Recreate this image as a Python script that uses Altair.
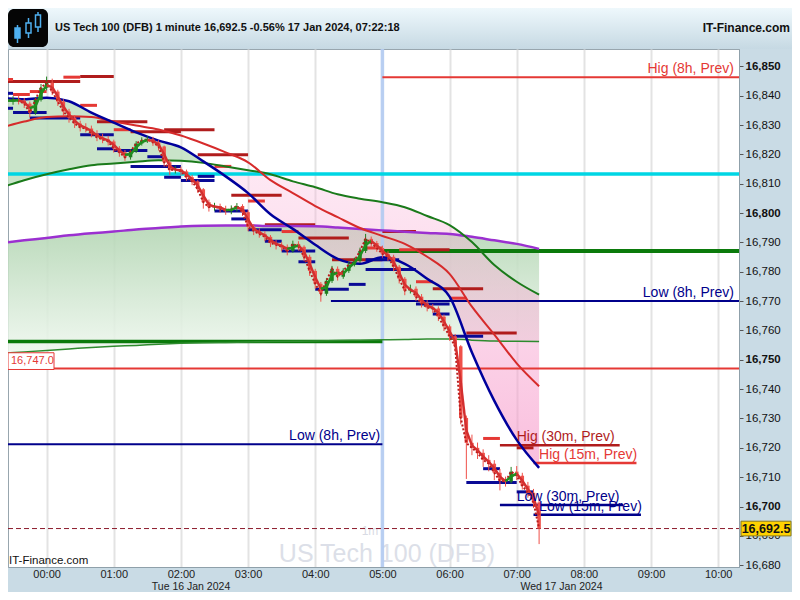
import altair as alt
import pandas as pd

# ---------------- data (x = minutes after 00:00 on the session axis) ----------------
candle_m = list(range(-40, 441, 5))
first_open = 16839.0
close = [16838.6, 16838.0, 16838.6, 16838.3, 16837.3, 16834.2, 16838.6, 16842.7,
         16844.4, 16841.4, 16838.0, 16834.6, 16832.5, 16830.5, 16829.2, 16828.8, 16827.1, 16825.8,
         16825.1, 16824.4, 16822.0, 16820.7, 16819.0, 16821.0, 16823.7, 16824.7, 16825.1, 16824.1,
         16822.7, 16817.3, 16814.6, 16814.9, 16814.2, 16812.2, 16810.8, 16808.1, 16803.7, 16802.0,
         16802.4, 16801.4, 16800.7, 16801.4, 16802.4, 16800.3, 16795.3, 16793.9, 16792.9, 16791.9,
         16789.8, 16789.2, 16788.5, 16787.1, 16789.5, 16788.5, 16785.1, 16780.3, 16775.9, 16772.5,
         16776.9, 16781.0, 16778.3, 16780.3, 16782.4, 16783.7, 16787.1, 16791.2, 16789.8, 16788.1,
         16786.1, 16785.1, 16781.7, 16777.6, 16773.6, 16774.2, 16771.5, 16769.2, 16767.8, 16767.5,
         16764.7, 16761.4, 16758.0, 16754.6, 16730.2, 16721.7, 16720.0, 16718.3, 16715.9, 16714.6,
         16711.5, 16708.8, 16708.5, 16711.9, 16710.5, 16707.1, 16704.7, 16701.4, 16692.5]
high = [16840.5, 16840.0, 16839.8, 16839.9, 16839.2, 16838.0, 16839.5, 16844.0,
        16846.5, 16845.8, 16842.0, 16838.8, 16835.5, 16833.4, 16831.5, 16830.6, 16829.8, 16828.2,
        16827.0, 16826.3, 16825.0, 16822.8, 16821.5, 16821.8, 16824.5, 16825.8, 16826.2, 16826.0,
        16824.8, 16823.0, 16818.2, 16816.0, 16815.8, 16814.8, 16813.0, 16811.2, 16808.5, 16804.6,
        16803.5, 16803.2, 16802.5, 16802.6, 16803.4, 16803.0, 16801.0, 16796.2, 16794.8, 16793.8,
        16792.5, 16790.8, 16790.1, 16789.3, 16790.6, 16790.4, 16789.0, 16785.8, 16781.0, 16776.5,
        16777.8, 16782.0, 16781.8, 16781.2, 16783.5, 16784.8, 16788.2, 16792.9, 16792.0, 16790.5,
        16788.9, 16787.0, 16785.8, 16782.3, 16778.2, 16775.6, 16775.0, 16772.4, 16770.3, 16769.0,
        16768.2, 16765.4, 16762.0, 16758.8, 16755.0, 16731.0, 16724.5, 16721.8, 16719.5, 16717.5,
        16715.8, 16712.8, 16710.2, 16713.5, 16713.8, 16711.5, 16708.4, 16706.0, 16702.5]
low = [16837.2, 16836.8, 16836.9, 16837.0, 16835.8, 16832.6, 16833.5, 16838.0,
       16841.8, 16840.2, 16836.5, 16833.0, 16830.8, 16829.0, 16827.8, 16827.5, 16825.8, 16824.5,
       16823.8, 16823.0, 16820.6, 16819.2, 16817.8, 16818.2, 16820.5, 16823.0, 16823.9, 16822.9,
       16821.3, 16815.8, 16813.0, 16813.5, 16812.9, 16811.0, 16809.5, 16806.9, 16801.5, 16800.5,
       16800.8, 16800.2, 16799.4, 16799.6, 16800.5, 16799.0, 16793.8, 16792.5, 16791.6, 16790.4,
       16788.4, 16787.6, 16787.0, 16785.6, 16786.5, 16787.2, 16783.6, 16778.6, 16774.2, 16769.8,
       16771.8, 16776.2, 16777.0, 16777.6, 16779.6, 16781.8, 16783.0, 16786.4, 16788.5, 16786.8,
       16784.8, 16783.7, 16780.2, 16776.0, 16772.0, 16772.6, 16770.1, 16767.8, 16766.5, 16766.0,
       16763.2, 16759.8, 16756.5, 16752.8, 16728.0, 16709.4, 16717.5, 16716.2, 16713.5, 16712.0,
       16709.0, 16705.5, 16706.8, 16707.9, 16709.0, 16705.8, 16703.0, 16699.5, 16687.2]

ma_m = [-40, -20, 0, 20, 40, 60, 80, 100, 120, 140, 160, 180, 200, 220, 240, 260, 280, 300,
        320, 340, 360, 380, 400, 420, 440]
blue_ma = [16839.2, 16838.8, 16839.3, 16838.1, 16834.2, 16830.8, 16827.5, 16824.7, 16822.4,
           16817.6, 16812.5, 16806.8, 16799.6, 16794.6, 16789.2, 16784.4, 16782.7, 16784.9,
           16782.7, 16777.6, 16771.5, 16752.5, 16736.0, 16722.7, 16713.2]
red_ma = [16829.2, 16831.2, 16832.7, 16833.0, 16832.7, 16831.2, 16829.8, 16828.5, 16826.4,
          16823.7, 16820.7, 16817.3, 16811.2, 16806.8, 16802.4, 16798.6, 16794.9, 16792.2,
          16789.5, 16785.1, 16779.3, 16768.1, 16758.6, 16748.8, 16741.0]
green_ma = [16808.8, 16811.2, 16813.2, 16814.9, 16816.3, 16816.9, 16817.5, 16818.0, 16817.8,
            16817.1, 16815.9, 16814.6, 16813.2, 16810.8, 16808.8, 16806.4, 16804.9, 16803.7,
            16802.0, 16799.0, 16795.9, 16790.1, 16782.3, 16776.6, 16772.2]
purple_ma = [16789.8, 16790.7, 16791.5, 16792.4, 16793.1, 16793.7, 16794.4, 16794.9, 16795.4,
             16795.7, 16795.8, 16795.8, 16795.6, 16795.6, 16795.5, 16795.1, 16794.6, 16794.1,
             16793.6, 16793.2, 16792.9, 16791.9, 16790.7, 16789.5, 16787.8]
cloud_base = [16752.2, 16752.7, 16753.2, 16753.7, 16754.2, 16754.6, 16754.9, 16755.3, 16755.6,
              16755.8, 16755.9, 16756.1, 16756.2, 16756.3, 16756.4, 16756.6, 16756.7, 16756.8,
              16756.9, 16757.1, 16757.1, 16756.7, 16756.4, 16756.3, 16756.2]

# key levels
level_m0 = [-45, -45, -45, 300, 300, 254, -45, 405, 435, 405, 435]
level_m1 = [620, 620, 300, 620, 620, 620, 300, 512, 527, 515, 531]
level_v = [16813.3, 16747.0, 16756.2, 16787.1, 16846.3, 16770.0, 16721.2, 16720.9, 16714.8, 16700.5, 16697.2]
level_color = ['#00d6e4', '#e53935', '#0b7a0b', '#0b7a0b', '#e53935', '#00008b', '#00008b',
               '#b01c1c', '#e53935', '#00008b', '#00008b']
level_width = [3.5, 2, 3.5, 4, 2, 2, 2, 2.5, 2.5, 2.5, 2.5]

label_text = ['Hig (8h, Prev)', 'Low (8h, Prev)', 'Low (8h, Prev)', 'Hig (30m, Prev)',
              'Hig (15m, Prev)', 'Low (30m, Prev)', 'Low (15m, Prev)']
label_m = [614, 614, 298, 420, 440, 420, 440]
label_v = [16846.3, 16770.0, 16721.2, 16720.9, 16714.8, 16700.5, 16697.2]
label_side = ['right', 'right', 'right', 'left', 'left', 'left', 'left']
label_color = ['#e53935', '#00008b', '#00008b', '#b01c1c', '#e53935', '#00008b', '#00008b']

# short previous-period high / low dashes
seg_kind = ['dk', 'rd', 'rd', 'dk', 'nv', 'rd', 'rd', 'nv', 'nv', 'nv', 'rd', 'dk', 'rd', 'dk', 'dk',
            'nv', 'nv', 'nv', 'nv', 'nv', 'nv', 'nv', 'nv', 'dk', 'rd', 'dk', 'rd', 'nv', 'nv', 'nv',
            'dk', 'rd', 'dk', 'nv', 'nv', 'nv', 'nv', 'nv', 'dk', 'dk', 'rd', 'nv', 'rd', 'dk', 'nv',
            'rd', 'dk', 'rd', 'nv', 'nv', 'dk', 'nv', 'rd', 'dk', 'nv', 'nv', 'nv']
seg_m0 = [-45, -45, 15, 30, -45, -30, -15, -45, -30, -15, 30, 45, 60, 75, 105,
          30, 45, 60, 90, 75, 105, 120, 135, 135, 150, 165, 180, 150, 165, 180,
          195, 210, 225, 195, 210, 225, 240, 270, 255, 300, 285, 285, 315, 330, 285,
          330, 345, 360, 330, 345, 375, 360, 390, 420, 390, 375, 420]
seg_m1 = [30, -30, 30, 60, -30, -15, 0, -30, 0, 30, 45, 90, 75, 120, 150,
          60, 60, 90, 105, 120, 120, 150, 150, 180, 165, 210, 195, 180, 180, 210,
          240, 225, 270, 210, 240, 240, 270, 285, 300, 330, 300, 315, 330, 360, 330,
          345, 390, 375, 360, 360, 420, 390, 405, 435, 405, 420, 435]
seg_v = [16844.8, 16845.5, 16846.3, 16846.5, 16840.8, 16840.4, 16841.4, 16835.7, 16834.3, 16832.4,
         16836.7, 16831.1, 16828.4, 16827.7, 16828.4, 16826.7, 16821.9, 16821.3, 16819.2, 16815.9,
         16812.2, 16811.1, 16812.5, 16819.9, 16815.9, 16806.1, 16804.1, 16800.7, 16798.0, 16794.3,
         16796.0, 16793.7, 16791.5, 16790.4, 16787.1, 16783.4, 16774.0, 16775.7, 16784.1, 16793.7,
         16788.1, 16784.1, 16787.5, 16787.5, 16780.8, 16776.6, 16774.2, 16771.0, 16769.0, 16765.6,
         16759.1, 16758.0, 16723.2, 16720.0, 16712.9, 16708.2, 16705.0]

last_price = 16692.5
session_break_m = 300
date_text = ['Tue 16 Jan 2024', 'Wed 17 Jan 2024']
date_m = [129, 460]
hour_ticks = list(range(0, 601, 60))
price_ticks = list(range(16680, 16851, 10))
title_text = 'US Tech 100 (DFB) 1 minute 16,692.5 -0.56% 17 Jan 2024, 07:22:18'

# ---------------- layout ----------------
W, H = 731, 518
TOP, RIGHT, BOTTOM = 41, 53, 25

# ---------------- scales / axes ----------------
FONT = 'Liberation Sans'
X_SCALE = alt.Scale(domain=[-34.5, 618.6], nice=False, zero=False)
Y_SCALE = alt.Scale(domain=[16679.4, 16855.9], nice=False, zero=False)
X_AXIS = alt.Axis(values=hour_ticks, title=None,
                  labelExpr="(datum.value < 600 ? '0' : '') + floor(datum.value / 60) + ':00'",
                  grid=True, gridColor='#e3e3e3', gridWidth=2, ticks=False, tickSize=0,
                  labelPadding=10.5, labelBaseline='alphabetic', labelFontSize=11, labelFont=FONT,
                  labelColor='#222222', domainColor='#8fa0aa', labelFlush=False, labelOverlap=False)
Y_AXIS = alt.Axis(orient='right', values=price_ticks, format=',d', title=None, grid=False,
                  tickSize=4, tickColor='#555555', labelPadding=2, labelFontSize=11.5, labelFont=FONT,
                  labelColor='#111111', domainColor='#8fa0aa', labelFlush=False, labelOverlap=False,
                  labelFontWeight={"condition": {"test": "datum.value % 50 === 0", "value": "bold"},
                                   "value": "normal"})


def X(f):
    return alt.X(f, type='quantitative', scale=X_SCALE, axis=X_AXIS)


def Y(f):
    return alt.Y(f, type='quantitative', scale=Y_SCALE, axis=Y_AXIS)


# ---------------- frames ----------------
opens = [first_open] + close[:-1]
candles = pd.DataFrame({'m': candle_m, 'open': opens, 'close': close, 'high': high, 'low': low})
candles['up'] = candles['close'] >= candles['open']
ma = pd.DataFrame({'m': ma_m, 'blue': blue_ma, 'red': red_ma, 'green': green_ma,
                   'purple': purple_ma, 'cloud': cloud_base})
levels = pd.DataFrame({'m0': level_m0, 'm1': level_m1, 'v': level_v, 'c': level_color, 'w': level_width})
labels = pd.DataFrame({'t': label_text, 'm': label_m, 'v': label_v, 'side': label_side, 'c': label_color})
segs = pd.DataFrame({'k': seg_kind, 'm0': seg_m0, 'm1': seg_m1, 'v': seg_v})
one = alt.Chart(pd.DataFrame({'k': [0]}))
price_df = pd.DataFrame({'p': [last_price]})
ref_df = pd.DataFrame({'p': [16747.0]})
dates = pd.DataFrame({'t': date_text, 'm': date_m})

UP = '#1f7f1f'
DOWN = '#ef5049'

layers = []

# header band + icon
layers.append(one.mark_rect(fill=alt.Gradient(gradient='linear', x1=0, x2=0, y1=0, y2=1, stops=[
    alt.GradientStop(color='#eef8fc', offset=0), alt.GradientStop(color='#c6d9e3', offset=1)])).encode(
    x=alt.value(0), x2=alt.value(W + RIGHT), y=alt.value(-TOP), y2=alt.value(0)))
layers.append(one.mark_rect(fill='#050505', cornerRadius=6).encode(
    x=alt.value(0), x2=alt.value(40), y=alt.value(-40), y2=alt.value(-2)))
for cx, w0, w1, b0, b1, filled in [(9.5, -24, -6, -21, -11, True), (20.5, -31, -11, -26, -16, False),
                                   (30, -37, -17, -34, -22, False)]:
    layers.append(one.mark_rule(color='#4fb0f0', strokeWidth=1.5).encode(
        x=alt.value(cx), y=alt.value(w0), y2=alt.value(w1)))
    layers.append(one.mark_rect(fill='#4fb0f0' if filled else '#050505', stroke='#4fb0f0',
                                strokeWidth=1.5).encode(
        x=alt.value(cx - 2.5), x2=alt.value(cx + 2.5), y=alt.value(b0), y2=alt.value(b1)))
layers.append(one.mark_text(text=title_text, align='left', baseline='middle', font=FONT, fontSize=11,
                            fontWeight='bold', color='#111111').encode(x=alt.value(47), y=alt.value(-21)))
layers.append(one.mark_text(text='IT-Finance.com', align='right', baseline='middle', font=FONT, fontSize=12,
                            fontWeight='bold', color='#111111').encode(x=alt.value(782), y=alt.value(-21)))

# watermark
layers.append(one.mark_text(text='US Tech 100 (DFB)', align='center', baseline='alphabetic', font=FONT,
                            fontSize=25, color='#dcdfe8').encode(x=alt.value(379), y=alt.value(513)))
layers.append(one.mark_text(text='1m', align='center', baseline='alphabetic', font=FONT,
                            fontSize=12, color='#d8dbe4').encode(x=alt.value(362), y=alt.value(486)))

# cloud (purple MA to slow base) with gradient
layers.append(alt.Chart(ma).mark_area(interpolate='monotone', clip=True, opacity=0.88,
                                      color=alt.Gradient(gradient='linear', x1=0, x2=0, y1=0, y2=1, stops=[
                                          alt.GradientStop(color='#b2d5b2', offset=0),
                                          alt.GradientStop(color='#eef7ee', offset=1)])).encode(
    x=X('m'), y=Y('purple'), y2='cloud'))
# fill between fast (blue) and slow (green) averages
layers.append(alt.Chart(ma).transform_filter('datum.m <= 140').mark_area(
    interpolate='monotone', clip=True, color='#bfdfbf', opacity=0.85).encode(
    x=X('m'), y=Y('blue'), y2='green'))
layers.append(alt.Chart(ma).transform_filter('datum.m >= 140').mark_area(
    interpolate='monotone', clip=True,
    color=alt.Gradient(gradient='linear', x1=0, x2=0, y1=0, y2=1, stops=[
        alt.GradientStop(color='rgba(250,186,220,0.32)', offset=0),
        alt.GradientStop(color='rgba(246,150,200,0.62)', offset=1)])).encode(
    x=X('m'), y=Y('green'), y2='blue'))

# session break
layers.append(alt.Chart(pd.DataFrame({'m': [session_break_m]})).mark_rule(
    color='#b3cbf2', strokeWidth=3.5, opacity=0.9).encode(x=X('m'), y=alt.value(0), y2=alt.value(H)))

# key level lines
layers.append(alt.Chart(levels).mark_rule(clip=True, strokeCap='butt').encode(
    x=X('m0'), x2='m1', y=Y('v'), color=alt.Color('c:N', scale=None),
    strokeWidth=alt.StrokeWidth('w:Q', scale=None)))
# current price line
layers.append(alt.Chart(price_df).mark_rule(color='#8b1a2b', strokeWidth=1, strokeDash=[5, 3]).encode(
    x=alt.value(0), x2=alt.value(W), y=Y('p')))

# short dashes
layers.append(alt.Chart(segs).mark_rule(clip=True, strokeWidth=3, strokeCap='butt').encode(
    x=X('m0'), x2='m1', y=Y('v'),
    color=alt.Color('k:N', scale=alt.Scale(domain=['dk', 'rd', 'nv'], range=['#b01c1c', '#e53935', '#0a0a96']),
                    legend=None)))

# moving averages
for col, colr, wd in [('purple', '#9b30d0', 2.5), ('cloud', '#2e8b2e', 1.5), ('green', '#1a7a1a', 2),
                      ('red', '#d62b2b', 2), ('blue', '#00009c', 2.5)]:
    layers.append(alt.Chart(ma).mark_line(interpolate='monotone', clip=True, color=colr,
                                          strokeWidth=wd).encode(x=X('m'), y=Y(col)))

# candles
ccol = alt.condition('datum.up', alt.value(UP), alt.value(DOWN))
layers.append(alt.Chart(candles).mark_rule(clip=True, strokeWidth=1).encode(
    x=X('m'), y=Y('low'), y2='high', color=ccol))
layers.append(alt.Chart(candles).mark_rule(clip=True, strokeWidth=3.5, strokeCap='butt').encode(
    x=X('m'), y=Y('open'), y2='close', color=ccol))
# dotted close line
layers.append(alt.Chart(candles).mark_line(clip=True, color='#b71c1c', strokeWidth=2,
                                           strokeDash=[2, 2]).encode(x=X('m'), y=Y('close')))
# short average coloured by slope
layers.append(alt.Chart(candles).transform_window(
    sma='mean(close)', frame=[-1, 0], sort=[alt.SortField('m')]).transform_window(
    prev_s='lag(sma)', prev_m='lag(m)', sort=[alt.SortField('m')]).transform_filter(
    'datum.prev_m != null').mark_rule(clip=True, strokeWidth=2.5).encode(
    x=X('prev_m'), x2='m', y=Y('prev_s'), y2='sma',
    color=alt.condition('datum.sma >= datum.prev_s', alt.value('#1f8f1f'), alt.value('#d32f2f'))))

# level labels
for side in ['right', 'left']:
    layers.append(alt.Chart(labels).transform_filter(f"datum.side == '{side}'").mark_text(
        align=side, baseline='bottom', dy=-1, font=FONT, fontSize=14).encode(
        x=X('m'), y=Y('v'), text='t:N', color=alt.Color('c:N', scale=None)))

# reference-level box on the left
layers.append(alt.Chart(ref_df).transform_calculate(lo='datum.p - 0.3', hi='datum.p + 5.4').mark_rect(
    fill='white', stroke='#e53935', strokeWidth=1).encode(
    x=alt.value(0), x2=alt.value(46), y=Y('lo'), y2='hi'))
layers.append(alt.Chart(ref_df).transform_calculate(mid='datum.p + 2.6').mark_text(
    align='left', baseline='middle', font=FONT, fontSize=11, color='#e53935').encode(
    x=alt.value(3), y=Y('mid'), text=alt.Text('p:Q', format=',.1f')))

# last price box
layers.append(alt.Chart(price_df).transform_calculate(lo='datum.p - 2.5', hi='datum.p + 2.5').mark_rect(
    fill='#ffd200', stroke='#8a7a20', strokeWidth=1).encode(
    x=alt.value(733), x2=alt.value(783), y=Y('lo'), y2='hi'))
layers.append(alt.Chart(price_df).mark_text(
    align='center', baseline='middle', font=FONT, fontSize=12.5, fontWeight='bold', color='#111111').encode(
    x=alt.value(758), y=Y('p'), text=alt.Text('p:Q', format=',.1f')))

# footer texts
layers.append(alt.Chart(dates).mark_text(align='center', baseline='alphabetic', font=FONT, fontSize=10.5,
                                         color='#222222').encode(x=X('m'), y=alt.value(H + 22.5), text='t:N'))
layers.append(one.mark_text(text='IT-Finance.com', align='left', baseline='alphabetic', font=FONT,
                            fontSize=11.5, color='#111111').encode(x=alt.value(1), y=alt.value(H - 3)))

chart = alt.layer(*layers).properties(
    width=W, height=H,
    autosize=alt.AutoSizeParams(type='none'),
    padding={'left': 0, 'top': TOP, 'right': RIGHT, 'bottom': BOTTOM},
    background='#c9dbe5',
).configure_view(fill='white', stroke='#98a6ae', strokeWidth=1)

chart.save("out.html", embed_options={"renderer": "svg", "actions": False})
